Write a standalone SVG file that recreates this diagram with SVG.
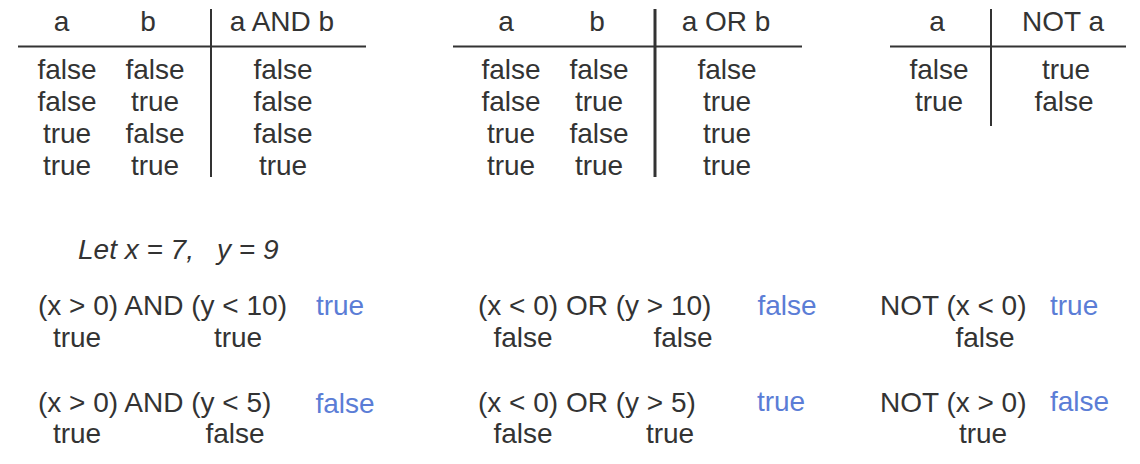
<svg xmlns="http://www.w3.org/2000/svg" width="1140" height="464" viewBox="0 0 1140 464">
<style>
text{font-family:"Liberation Sans",Arial,sans-serif;font-size:28px;fill:#333;text-anchor:middle}
.l{text-anchor:start}
.b{fill:#5b7dd6}
.i{font-style:italic}
.rule{stroke:#333;stroke-width:2;fill:none}
.thick{stroke-width:3}
</style>
<rect width="1140" height="464" fill="#fff"/>
<g id="connectors">
<line class="rule" x1="18" y1="46.5" x2="366" y2="46.5"/>
<line class="rule" x1="211" y1="9" x2="211" y2="177"/>
<line class="rule" x1="453" y1="46.5" x2="802" y2="46.5"/>
<line class="rule thick" x1="655" y1="9" x2="655" y2="177"/>
<line class="rule" x1="890" y1="46.5" x2="1126" y2="46.5"/>
<line class="rule" x1="991" y1="9" x2="991" y2="126"/>
</g>
<g id="and-table">
<text x="61.5" y="31">a</text>
<text x="148" y="31">b</text>
<text x="282" y="31">a AND b</text>
<text x="67" y="79">false</text><text x="155" y="79">false</text><text x="283" y="79">false</text>
<text x="67" y="111">false</text><text x="155" y="111">true</text><text x="283" y="111">false</text>
<text x="67" y="143">true</text><text x="155" y="143">false</text><text x="283" y="143">false</text>
<text x="67" y="175">true</text><text x="155" y="175">true</text><text x="283" y="175">true</text>
</g>
<g id="or-table">
<text x="506" y="31">a</text>
<text x="597" y="31">b</text>
<text x="726" y="31">a OR b</text>
<text x="511" y="79">false</text><text x="599" y="79">false</text><text x="727" y="79">false</text>
<text x="511" y="111">false</text><text x="599" y="111">true</text><text x="727" y="111">true</text>
<text x="511" y="143">true</text><text x="599" y="143">false</text><text x="727" y="143">true</text>
<text x="511" y="175">true</text><text x="599" y="175">true</text><text x="727" y="175">true</text>
</g>
<g id="not-table">
<text x="937" y="31">a</text>
<text x="1063" y="31">NOT a</text>
<text x="939" y="79">false</text><text x="1066" y="79">true</text>
<text x="939" y="111">true</text><text x="1064" y="111">false</text>
</g>
<g id="given">
<text class="l i" x="78" y="259">Let x = 7,<tspan x="217">y = 9</tspan></text>
</g>
<g id="and-examples">
<text class="l" x="38" y="315">(x &gt; 0) AND (y &lt; 10)</text>
<text x="77" y="347">true</text><text x="238" y="347">true</text>
<text class="b" x="340" y="315">true</text>
<text class="l" x="38" y="412">(x &gt; 0) AND (y &lt; 5)</text>
<text x="77" y="443">true</text><text x="235" y="443">false</text>
<text class="b" x="345" y="413">false</text>
</g>
<g id="or-examples">
<text class="l" x="478" y="315">(x &lt; 0) OR (y &gt; 10)</text>
<text x="523" y="347">false</text><text x="683" y="347">false</text>
<text class="b" x="787" y="315">false</text>
<text class="l" x="478" y="412">(x &lt; 0) OR (y &gt; 5)</text>
<text x="523" y="443">false</text><text x="670" y="443">true</text>
<text class="b" x="781" y="411">true</text>
</g>
<g id="not-examples">
<text class="l" x="880" y="315">NOT (x &lt; 0)</text>
<text x="985" y="347">false</text>
<text class="b l" x="1050" y="315">true</text>
<text class="l" x="880" y="412">NOT (x &gt; 0)</text>
<text x="983" y="443">true</text>
<text class="b l" x="1050" y="411">false</text>
</g>
</svg>
